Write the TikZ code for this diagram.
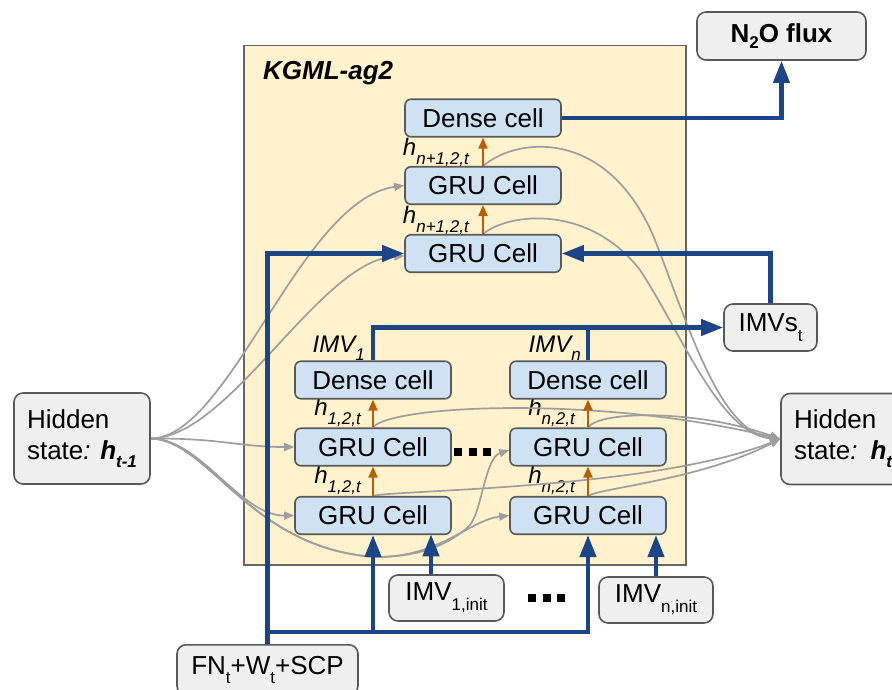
\documentclass[tikz,border=0pt]{standalone}
\usepackage{fontspec}
\setmainfont{Liberation Sans}
\usetikzlibrary{arrows.meta,calc}
\definecolor{yel}{HTML}{FFF2CC}
\definecolor{cellfill}{HTML}{CFE2F3}
\definecolor{boxfill}{HTML}{EFEFEF}
\definecolor{edgegray}{HTML}{595959}
\definecolor{framegray}{HTML}{666666}
\definecolor{navy}{HTML}{1C4587}
\definecolor{ochre}{HTML}{B45F06}
\definecolor{curvegray}{HTML}{9E9E9E}
\newcommand{\lowsub}[2][9pt]{\raisebox{-#1}{\fontsize{17}{17}\selectfont #2}}
\newcommand{\dotrow}{\rule{8pt}{8pt}\hspace{6.5pt}\rule{8pt}{8pt}\hspace{6.5pt}\rule{8pt}{8pt}}
\pgfdeclarelayer{bg}
\pgfdeclarelayer{mid}
\pgfsetlayers{bg,mid,main}
\begin{document}
\begin{tikzpicture}[x=1pt,y=-1pt,
 cell/.style={draw=edgegray, fill=cellfill, line width=1.6pt, rounded corners=6pt,
   minimum width=156pt, minimum height=37.5pt, inner sep=0pt, font=\fontsize{26}{30}\selectfont},
 iobox/.style={draw=edgegray, fill=boxfill, line width=1.6pt, rounded corners=9pt,
   inner sep=0pt, font=\fontsize{26}{31}\selectfont},
 bluearrow/.style={draw=navy, line width=4.2pt, -{Triangle[length=22pt,width=16pt]}},
 blueline/.style={draw=navy, line width=4.2pt},
 orangearrow/.style={draw=ochre, line width=2pt, -{Triangle[length=11pt,width=9pt]}},
 grayarrow/.style={draw=curvegray, line width=1.7pt, -{Triangle[length=10pt,width=8pt]}},
 hlabel/.style={inner sep=0pt, anchor=base east, font=\fontsize{24}{24}\selectfont\itshape},
]
\useasboundingbox (0,0) rectangle (892,689);

\begin{pgfonlayer}{bg}
\node[draw=framegray, fill=yel, line width=1.8pt, minimum width=442pt, minimum height=519.5pt, inner sep=0pt] (frame) at (465,305.25) {};
\end{pgfonlayer}
\node[anchor=base west, inner sep=0pt, font=\fontsize{26}{26}\selectfont\bfseries\itshape] (title) at (263,79) {KGML-ag2};

% cells
\node[cell] (dense) at (483,118) {Dense cell};
\node[cell] (gruB) at (483,185.5) {GRU Cell};
\node[cell] (gruA) at (483,253.5) {GRU Cell};
\node[cell] (dense1) at (373,380) {Dense cell};
\node[cell] (gru12) at (373,447) {GRU Cell};
\node[cell] (gru11) at (373,515.5) {GRU Cell};
\node[cell] (densen) at (588,380) {Dense cell};
\node[cell] (grun2) at (588,447) {GRU Cell};
\node[cell] (grun1) at (588,515.5) {GRU Cell};

% grey boxes
\node[iobox, minimum width=136pt, minimum height=91pt, align=left] (hl) at (82,438.5)
  {Hidden\\state\textit{:} \textbf{\textit{h}}\lowsub[8pt]{\textbf{\textit{t-1}}}};
\node[iobox, minimum width=136pt, minimum height=91pt, text width=110pt, align=left] (hr) at (849,439)
  {Hidden\\state\textit{:} \textbf{\textit{h}}\lowsub[8pt]{\textbf{\textit{t}}}};
\node[iobox, minimum width=93pt, minimum height=47pt] (imvs) at (770.5,327.5) {IMVs\lowsub[10pt]{t}};
\node[iobox, minimum width=169pt, minimum height=48pt, font=\fontsize{26}{30}\selectfont\bfseries] (n2o) at (781.5,36) {N\lowsub[6pt]{2}O flux};
\node[iobox, minimum width=181pt, minimum height=50pt, anchor=north] (fn) at (267.5,644) {FN\lowsub{t}+W\lowsub{t}+SCP};
\node[iobox, minimum width=115pt, minimum height=46pt] (imv1init) at (446.5,598) {IMV\lowsub[10pt]{1,init}};
\node[iobox, minimum width=114pt, minimum height=46pt] (imvninit) at (656,600) {IMV\lowsub[10pt]{n,init}};

% dots
\node[inner sep=0pt] (dotsA) at (472.5,452) {\dotrow};
\node[inner sep=0pt] (dotsB) at (546.5,598) {\dotrow};

% labels (under cells)
\begin{pgfonlayer}{mid}
\node[hlabel] (hA) at ([xshift=-14pt,yshift=10pt]gruA.north) {h\lowsub{n+1,2,t}};
\node[hlabel] (hB) at ([xshift=-14pt,yshift=10pt]gruB.north) {h\lowsub{n+1,2,t}};
\node[hlabel] (h11) at ([xshift=-12pt,yshift=12pt]gru11.north) {h\lowsub{1,2,t}};
\node[hlabel] (h12) at ([xshift=-12pt,yshift=12pt]gru12.north) {h\lowsub{1,2,t}};
\node[hlabel] (hn1) at ([xshift=-13pt,yshift=12pt]grun1.north) {h\lowsub{n,2,t}};
\node[hlabel] (hn2) at ([xshift=-13pt,yshift=12pt]grun2.north) {h\lowsub{n,2,t}};
\node[hlabel] (imv1lab) at ([xshift=-8pt,yshift=8pt]dense1.north) {IMV\lowsub[8pt]{1}};
\node[hlabel] (imvnlab) at ([xshift=-7pt,yshift=8pt]densen.north) {IMV\lowsub[8pt]{n}};

% grey curves
\coordinate (under) at (377,557);
\coordinate (rise) at (470,525);
\coordinate (wa) at (655,240);
\coordinate (wb) at (640,270);
\draw[grayarrow] (hl.east) .. controls (230,438) and (300,200) .. (gruB.west);
\draw[grayarrow] (hl.east) .. controls (230,438) and (320,260) .. ([yshift=-2.5pt]gruA.west);
\draw[grayarrow] (hl.east) .. controls (220,438) and (240,447) .. (gru12.west);
\draw[grayarrow] (hl.east) .. controls (200,438) and (240,516) .. (gru11.west);
\draw[grayarrow] (hl.east) .. controls (210,440) and (250,550) .. (under) .. controls (430,557) and (458,537) .. (rise) .. controls (482,510) and (485,458) .. ([yshift=-3pt]grun2.west);
\draw[grayarrow] (hl.east) .. controls (210,440) and (250,550) .. (under) .. controls (440,557) and (470,520) .. (grun1.west);
\draw[grayarrow] (gruB.north) .. controls (520,135) and (610,130) .. (wa) .. controls (690,330) and (720,432) .. (hr.west);
\draw[grayarrow] (gruA.north) .. controls (510,212) and (590,205) .. (wb) .. controls (680,330) and (720,435) .. (hr.west);
\draw[grayarrow] (gru12.north) .. controls (390,405) and (600,395) .. (hr.west);
\draw[grayarrow] (grun2.north) .. controls (600,410) and (700,410) .. (hr.west);
\draw[grayarrow] (gru11.north) .. controls (390,490) and (650,490) .. (hr.west);
\draw[grayarrow] (grun1.north) .. controls (600,488) and (700,480) .. (hr.west);
\end{pgfonlayer}

% orange arrows
\draw[orangearrow] (gruA.north) -- (gruB.south);
\draw[orangearrow] (gruB.north) -- (dense.south);
\draw[orangearrow] (gru11.north) -- (gru12.south);
\draw[orangearrow] (gru12.north) -- (dense1.south);
\draw[orangearrow] (grun1.north) -- (grun2.south);
\draw[orangearrow] (grun2.north) -- (densen.south);

% blue connectors
\coordinate (bus) at (267.5,632);
\coordinate (in1) at (431,534.25);
\draw[bluearrow] (dense.east) -| (n2o.south);
\draw[bluearrow] (fn.north) |- (gruA.west);
\draw[bluearrow] (bus) -| (grun1.south);
\draw[bluearrow] (gru11.south |- bus) -- (gru11.south);
\draw[bluearrow] (imv1init.north -| in1) -- (in1);
\draw[bluearrow] (imvninit.north) -- (imvninit.north |- grun1.south);
\draw[bluearrow] (dense1.north) |- (imvs.west);
\draw[blueline] (densen.north) -- (densen.north |- imvs.west);
\draw[bluearrow] (imvs.north) |- (gruA.east);
\end{tikzpicture}
\end{document}
